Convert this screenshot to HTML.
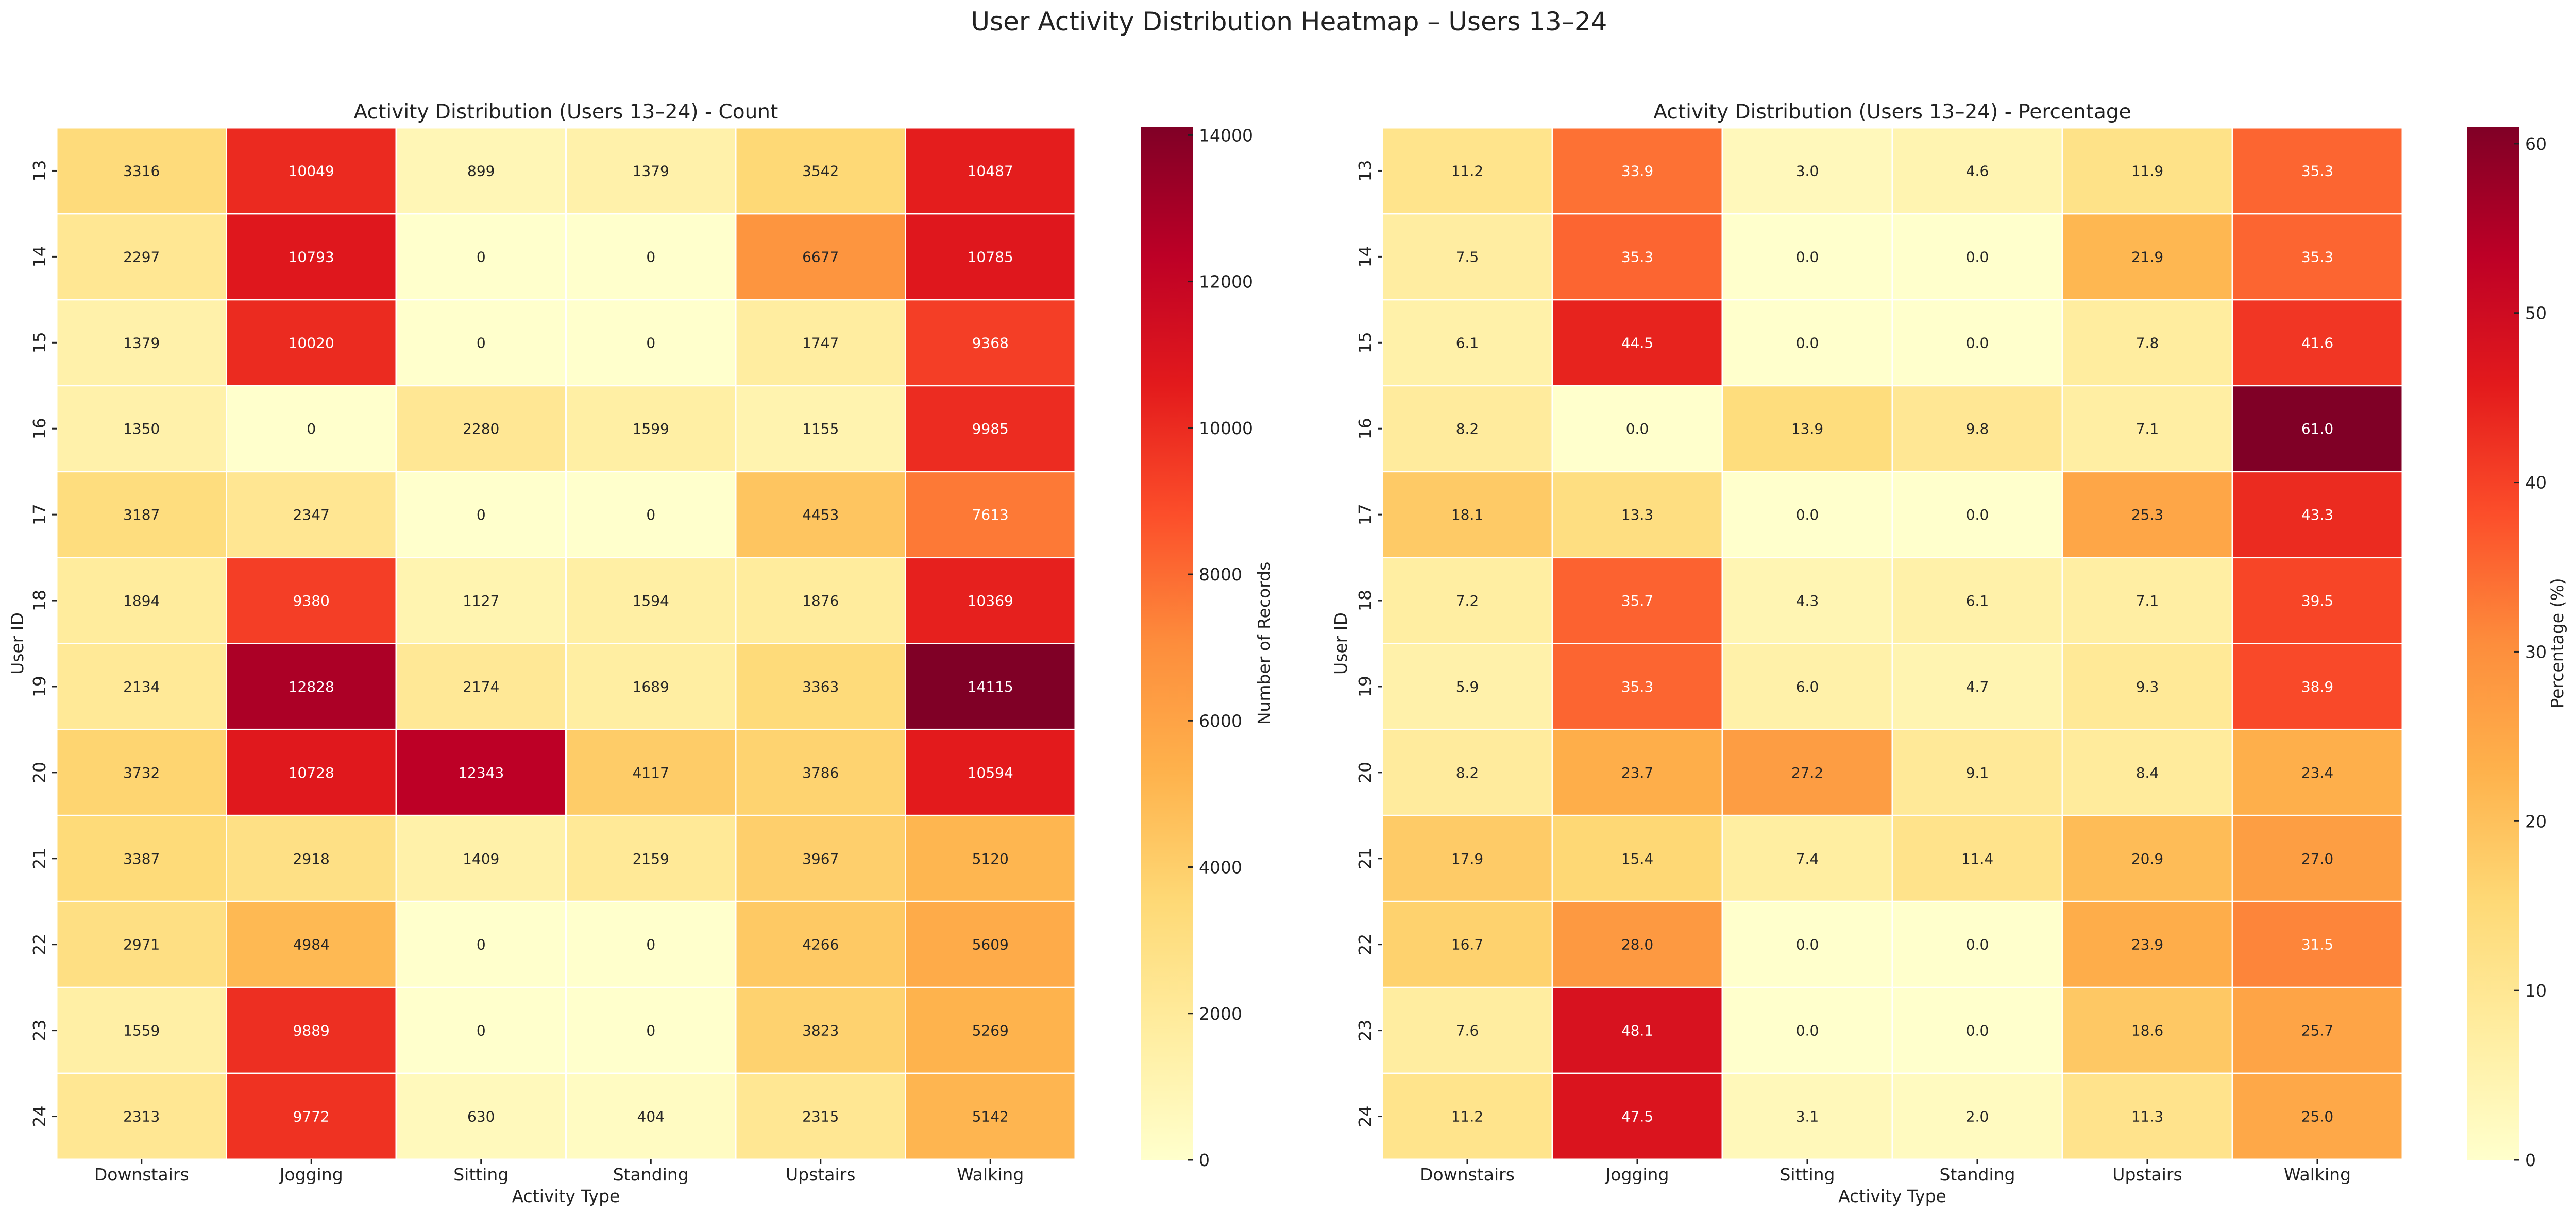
<!DOCTYPE html>
<html><head><meta charset="utf-8">
<style>
html,body{margin:0;padding:0;background:#fff;}
svg{display:block;font-family:"DejaVu Sans","Liberation Sans",sans-serif;}
</style></head>
<body>
<svg id="fig" width="5004" height="2361" viewBox="0 0 5004 2361" xmlns="http://www.w3.org/2000/svg">
<defs>
<linearGradient id="ylorrd" x1="0" y1="1" x2="0" y2="0">
<stop offset="0" stop-color="#ffffcc"/><stop offset="0.125" stop-color="#ffeda0"/><stop offset="0.25" stop-color="#fed976"/><stop offset="0.375" stop-color="#feb24c"/><stop offset="0.5" stop-color="#fd8d3c"/><stop offset="0.625" stop-color="#fc4e2a"/><stop offset="0.75" stop-color="#e31a1c"/><stop offset="0.875" stop-color="#bd0026"/><stop offset="1" stop-color="#800026"/>
</linearGradient>
</defs>
<text x="2502" y="59" font-size="50" text-anchor="middle" fill="#222">User Activity Distribution Heatmap – Users 13–24</text>
<g id="left"></g>
<g id="right"></g>
</svg>
<script>
const activities = ["Downstairs","Jogging","Sitting","Standing","Upstairs","Walking"];
const users = ["13","14","15","16","17","18","19","20","21","22","23","24"];
const countRows = [
 [3316,10049,899,1379,3542,10487],
 [2297,10793,0,0,6677,10785],
 [1379,10020,0,0,1747,9368],
 [1350,0,2280,1599,1155,9985],
 [3187,2347,0,0,4453,7613],
 [1894,9380,1127,1594,1876,10369],
 [2134,12828,2174,1689,3363,14115],
 [3732,10728,12343,4117,3786,10594],
 [3387,2918,1409,2159,3967,5120],
 [2971,4984,0,0,4266,5609],
 [1559,9889,0,0,3823,5269],
 [2313,9772,630,404,2315,5142]
];
const pctRows = [
 [11.2,33.9,3.0,4.6,11.9,35.3],
 [7.5,35.3,0.0,0.0,21.9,35.3],
 [6.1,44.5,0.0,0.0,7.8,41.6],
 [8.2,0.0,13.9,9.8,7.1,61.0],
 [18.1,13.3,0.0,0.0,25.3,43.3],
 [7.2,35.7,4.3,6.1,7.1,39.5],
 [5.9,35.3,6.0,4.7,9.3,38.9],
 [8.2,23.7,27.2,9.1,8.4,23.4],
 [17.9,15.4,7.4,11.4,20.9,27.0],
 [16.7,28.0,0.0,0.0,23.9,31.5],
 [7.6,48.1,0.0,0.0,18.6,25.7],
 [11.2,47.5,3.1,2.0,11.3,25.0]
];
const countTicks = [0,2000,4000,6000,8000,10000,12000,14000];
const pctTicks = [0,10,20,30,40,50,60];

const NS="http://www.w3.org/2000/svg";
const stops=["#ffffcc","#ffeda0","#fed976","#feb24c","#fd8d3c","#fc4e2a","#e31a1c","#bd0026","#800026"].map(h=>[parseInt(h.slice(1,3),16),parseInt(h.slice(3,5),16),parseInt(h.slice(5,7),16)]);
function cmap(t){t=Math.max(0,Math.min(1,t));const p=t*8;const i=Math.min(7,Math.floor(p));const f=p-i;
 return stops[i].map((c,k)=>Math.round(c+(stops[i+1][k]-c)*f));}
function lum(c){const l=c.map(v=>{v/=255;return v<=0.03928?v/12.92:Math.pow((v+0.055)/1.055,2.4);});return 0.2126*l[0]+0.7152*l[1]+0.0722*l[2];}
function mk(parent,tag,attrs,text){const e=document.createElementNS(NS,tag);for(const k in attrs)e.setAttribute(k,attrs[k]);if(text!==undefined)e.textContent=text;parent.appendChild(e);return e;}

function panel(g,opt){
 const x0=opt.x0,x1=opt.x1,y0=248,y1=2251;
 const cw=(x1-x0)/activities.length, ch=(y1-y0)/users.length;
 const xs=i=>x0+i*cw, ys=j=>y0+j*ch;
 const vmax=opt.vmax;
 const t=mk(g,"text",{x:(x0+x1)/2,y:230,"font-size":39,"text-anchor":"middle",fill:"#222"},opt.title);
 
 
 opt.rows.forEach((row,j)=>{row.forEach((v,i)=>{
  const c=cmap(v/vmax);
  const r=mk(g,"rect",{x:xs(i)+1.5,y:ys(j)+1.5,width:cw-3,height:ch-3,fill:`rgb(${c[0]},${c[1]},${c[2]})`});
  
  
  const tx=mk(g,"text",{x:xs(i)+cw/2,y:ys(j)+ch/2+10,"font-size":28,"text-anchor":"middle",fill:lum(c)<0.408?"#fff":"#262626"},opt.fmt(v));
  
  
 });});
 users.forEach((u,j)=>{const cy=ys(j)+ch/2;
  mk(g,"line",{x1:x0-9,x2:x0,y1:cy,y2:cy,stroke:"#222","stroke-width":3});
  const l=mk(g,"text",{x:x0-22,y:cy,"font-size":33,"text-anchor":"middle",fill:"#222",transform:`rotate(-90 ${x0-22} ${cy})`},u);
  
  
 });
 activities.forEach((a,i)=>{const cx=xs(i)+cw/2;
  mk(g,"line",{x1:cx,x2:cx,y1:y1,y2:y1+9,stroke:"#222","stroke-width":3});
  const l=mk(g,"text",{x:cx,y:2292,"font-size":33,"text-anchor":"middle",fill:"#222"},a);
  
  
 });
 const xt=mk(g,"text",{x:(x0+x1)/2,y:2334,"font-size":33,"text-anchor":"middle",fill:"#222"},"Activity Type");
 
 
 const yx=opt.ylabelX,yc=(y0+y1)/2;
 const yt=mk(g,"text",{x:yx,y:yc,"font-size":33,"text-anchor":"middle",fill:"#222",transform:`rotate(-90 ${yx} ${yc})`},"User ID");
 
 
 const cx0=opt.cbx, cx1=opt.cbx+101, cy0=246, cy1=2252;
 const cb=mk(g,"rect",{x:cx0,y:cy0,width:cx1-cx0,height:cy1-cy0,fill:"url(#ylorrd)"});
 
 
 const cys=v=>cy1-(v/vmax)*(cy1-cy0);
 opt.ticks.forEach(v=>{const y=cys(v);
  mk(g,"line",{x1:cx1-9,x2:cx1,y1:y,y2:y,stroke:"#222","stroke-width":3});
  const l=mk(g,"text",{x:cx1+12,y:y+12,"font-size":33,fill:"#222"},String(v));
  
  
 });
 const lx=opt.cblabelX,ly=(cy0+cy1)/2;
 const cl=mk(g,"text",{x:lx,y:ly,"font-size":33,"text-anchor":"middle",fill:"#222",transform:`rotate(-90 ${lx} ${ly})`},opt.cblabel);
 
 
}
panel(document.getElementById("left"),{x0:110,x1:2087,rows:countRows,vmax:14115,fmt:v=>String(v),ticks:countTicks,
 title:"Activity Distribution (Users 13–24) - Count",cbx:2214,cblabel:"Number of Records",cblabelX:2465,ylabelX:45});
panel(document.getElementById("right"),{x0:2683,x1:4663,rows:pctRows,vmax:61.0,fmt:v=>v.toFixed(1),ticks:pctTicks,
 title:"Activity Distribution (Users 13–24) - Percentage",cbx:4788,cblabel:"Percentage (%)",cblabelX:4975,ylabelX:2614});
</script>
</body></html>
